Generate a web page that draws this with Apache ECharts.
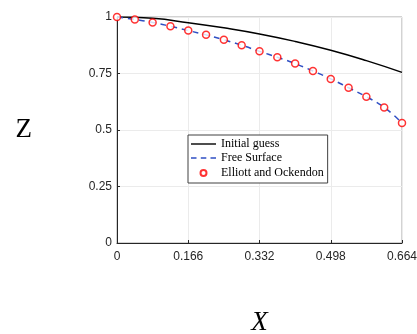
<!DOCTYPE html>
<html>
<head>
<meta charset="utf-8">
<script src="https://cdn.jsdelivr.net/npm/echarts@6/dist/echarts.min.js"></script>
<style>
  html, body { margin: 0; padding: 0; background: #ffffff; }
  #chart { width: 417px; height: 334px; }
</style>
</head>
<body>
<div id="chart"></div>
<script>
// Horizontal positions along the surface
const xTicks = [0, 0.166, 0.332, 0.498, 0.664];
const zTicks = [0, 0.25, 0.5, 0.75, 1];

// Initial guess for the surface profile
const guessX = [0, 0.083, 0.166, 0.249, 0.332, 0.415, 0.498, 0.581, 0.664];
const guessZ = [1.0, 0.994, 0.975, 0.952, 0.925, 0.892, 0.853, 0.807, 0.755];

// Computed free surface and Elliott & Ockendon reference points
const surfX = [0, 0.0415, 0.083, 0.1245, 0.166, 0.2075, 0.249, 0.2905, 0.332,
               0.3735, 0.415, 0.4565, 0.498, 0.5395, 0.581, 0.6225, 0.664];
const surfZ = [1.0, 0.989, 0.976, 0.959, 0.940, 0.921, 0.899, 0.875, 0.848,
               0.822, 0.794, 0.761, 0.726, 0.687, 0.647, 0.600, 0.531];
const eoZ   = [1.0, 0.989, 0.976, 0.959, 0.940, 0.921, 0.899, 0.875, 0.848,
               0.822, 0.794, 0.761, 0.726, 0.687, 0.647, 0.600, 0.531];

const pair = (xs, ys) => xs.map((x, i) => [x, ys[i]]);

const chart = echarts.init(document.getElementById('chart'), null, { renderer: 'canvas' });

const tickFont = { fontFamily: 'Liberation Sans, Arial, sans-serif', fontSize: 12, color: '#262626' };

// Legend glyphs drawn in a 25x12 slot (the two leading moves fix the icon's box)
const solidIcon = 'path://M0,0M25,12M0,5.3L25,5.3L25,6.7L0,6.7Z';
const dashIcon = 'path://M0,0M25,12M0,5.3L5.5,5.3L5.5,6.7L0,6.7ZM9.8,5.3L15.3,5.3L15.3,6.7L9.8,6.7ZM19.5,5.3L25,5.3L25,6.7L19.5,6.7Z';
const ringIcon = 'path://M0,0M25,12M9.5,6A3,3 0 1,0 15.5,6A3,3 0 1,0 9.5,6Z';

chart.setOption({
  animation: false,
  backgroundColor: '#ffffff',
  grid: {
    left: 117, right: 15, top: 17, bottom: 91,
    outerBoundsMode: 'none', containLabel: false,
    show: true, borderColor: '#a6a6a6', borderWidth: 1, backgroundColor: 'transparent'
  },
  legend: {
    show: true,
    orient: 'vertical',
    left: 188, top: 135,
    padding: [3, 4, 3, 2],
    itemGap: 2,
    itemWidth: 25, itemHeight: 12,
    backgroundColor: '#ffffff',
    borderColor: '#404040', borderWidth: 1,
    textStyle: { fontFamily: 'Liberation Serif, Times New Roman, serif', fontSize: 12, color: '#000' },
    data: [
      { name: 'Initial guess', icon: solidIcon, itemStyle: { color: '#000000', borderWidth: 0 } },
      { name: 'Free Surface', icon: dashIcon, itemStyle: { color: '#2f4fc4', borderWidth: 0 } },
      { name: 'Elliott and Ockendon', icon: ringIcon }
    ]
  },
  xAxis: {
    type: 'value', min: 0, max: 0.664, interval: 0.166,
    axisLine: { show: true, lineStyle: { color: '#262626', width: 1 } },
    axisTick: { show: true, inside: true, length: 3, lineStyle: { color: '#262626' } },
    axisLabel: Object.assign({ margin: 8, formatter: v => String(+v.toFixed(3)) }, tickFont),
    splitLine: { show: true, lineStyle: { color: '#ebebeb', width: 1 } },
    name: 'X', nameLocation: 'middle', nameGap: 66,
    nameTextStyle: { fontFamily: 'Liberation Serif, Times New Roman, serif', fontStyle: 'italic', fontSize: 27, color: '#000' }
  },
  yAxis: {
    type: 'value', min: 0, max: 1, interval: 0.25,
    axisLine: { show: true, lineStyle: { color: '#262626', width: 1 } },
    axisTick: { show: true, inside: true, length: 3, lineStyle: { color: '#262626' } },
    axisLabel: Object.assign({ margin: 5, formatter: v => String(+v.toFixed(2)) }, tickFont),
    splitLine: { show: true, lineStyle: { color: '#ebebeb', width: 1 } },
    name: 'Z', nameLocation: 'middle', nameGap: 85, nameRotate: 0,
    nameTextStyle: { fontFamily: 'Liberation Serif, Times New Roman, serif', fontSize: 27, color: '#000', padding: [0, 0, 4, 0] }
  },
  series: [
    {
      name: 'Initial guess', type: 'line', smooth: true, symbol: 'none',
      data: pair(guessX, guessZ),
      lineStyle: { color: '#000000', width: 1.5 },
      itemStyle: { color: '#000000' }
    },
    {
      name: 'Free Surface', type: 'line', smooth: true, symbol: 'none',
      data: pair(surfX, surfZ),
      lineStyle: { color: '#2f4fc4', width: 1.5, type: [6, 5] },
      itemStyle: { color: '#2f4fc4' }
    },
    {
      name: 'Elliott and Ockendon', type: 'scatter',
      data: pair(surfX, eoZ),
      symbol: 'circle', symbolSize: 7,
      itemStyle: { color: '#ffffff', borderColor: '#ff0000', borderWidth: 1.5 },
      z: 3
    }
  ]
});
</script>
</body>
</html>
